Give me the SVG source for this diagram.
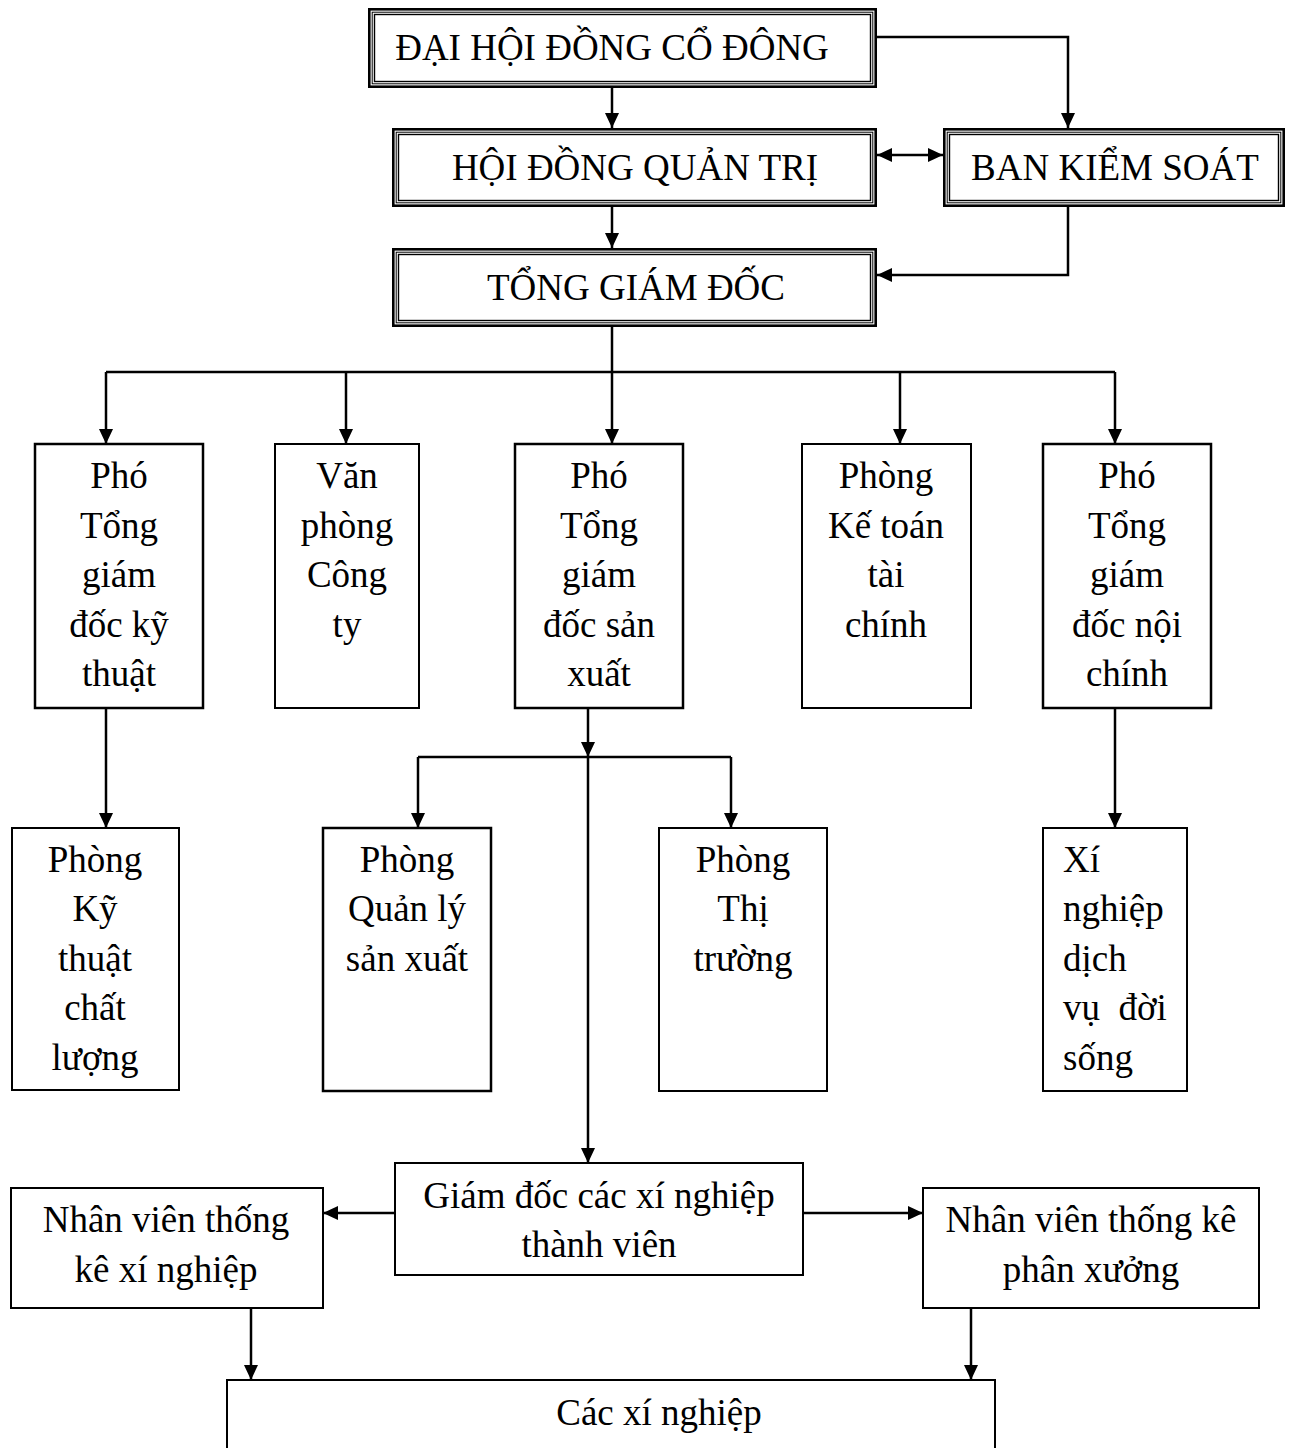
<svg xmlns="http://www.w3.org/2000/svg" width="1293" height="1448" viewBox="0 0 1293 1448">
  <style>
    text { font-family: "Liberation Serif", "Times New Roman", serif; font-size: 37px; fill: #000; text-anchor: middle; }
    text.left { text-anchor: start; white-space: pre; }
    .box { fill: #fff; stroke: #000; stroke-width: 2.5; }
    .thin { fill: #fff; stroke: #000; stroke-width: 2; }
    .t1 { fill: none; stroke: #000; stroke-width: 2.6; }
    .t2 { fill: none; stroke: #000; stroke-width: 1; }
    .t3 { fill: none; stroke: #000; stroke-width: 1.4; }
    .wire { fill: none; stroke: #000; stroke-width: 2.5; }
    .arrow { fill: none; stroke: #000; stroke-width: 2.5; marker-end: url(#head); }
  </style>
  <defs>
    <marker id="head" markerUnits="userSpaceOnUse" markerWidth="15" markerHeight="14" refX="15" refY="7" orient="auto-start-reverse">
      <path d="M0,0 L15,7 L0,14 z" fill="#000"/>
    </marker>
  </defs>
  <rect width="1293" height="1448" fill="#fff"/>

  <!-- connectors -->
  <g id="connectors">
    <path class="arrow" d="M612,88 V128"/>
    <path class="arrow" d="M877,37 H1068 V128"/>
    <path class="arrow" d="M877,155 H943" marker-start="url(#head)"/>
    <path class="arrow" d="M1068,207 V275 H877"/>
    <path class="arrow" d="M612,207 V248"/>
    <path class="arrow" d="M612,327 V444"/>
    <path class="wire" d="M106,372 H1115"/>
    <path class="arrow" d="M106,372 V444"/>
    <path class="arrow" d="M346,372 V444"/>
    <path class="arrow" d="M900,372 V444"/>
    <path class="arrow" d="M1115,372 V444"/>
    <path class="arrow" d="M106,708 V828"/>
    <path class="arrow" d="M588,708 V757"/>
    <path class="arrow" d="M588,757 V1163"/>
    <path class="wire" d="M418,757 H731"/>
    <path class="arrow" d="M418,757 V828"/>
    <path class="arrow" d="M731,757 V828"/>
    <path class="arrow" d="M1115,708 V828"/>
    <path class="arrow" d="M395,1213 H323"/>
    <path class="arrow" d="M803,1213 H923"/>
    <path class="arrow" d="M251,1308 V1380"/>
    <path class="arrow" d="M971,1308 V1380"/>
  </g>

  <!-- board level: triple-line frames -->
  <g id="dai-hoi-dong-co-dong">
    <rect x="368" y="8" width="509" height="80" fill="#fff"/>
    <rect class="t1" x="369.3" y="9.3" width="506.4" height="77.4"/>
    <rect class="t2" x="372.2" y="12.2" width="500.6" height="71.6"/>
    <rect class="t3" x="374.5" y="14.5" width="496" height="67"/>
    <text x="612" y="60">ĐẠI HỘI ĐỒNG CỔ ĐÔNG</text>
  </g>
  <g id="hoi-dong-quan-tri">
    <rect x="392" y="128" width="485" height="79" fill="#fff"/>
    <rect class="t1" x="393.3" y="129.3" width="482.4" height="76.4"/>
    <rect class="t2" x="396.2" y="132.2" width="476.6" height="70.6"/>
    <rect class="t3" x="398.5" y="134.5" width="472" height="66"/>
    <text x="635" y="180">HỘI ĐỒNG QUẢN TRỊ</text>
  </g>
  <g id="ban-kiem-soat">
    <rect x="943" y="128" width="342" height="79" fill="#fff"/>
    <rect class="t1" x="944.3" y="129.3" width="339.4" height="76.4"/>
    <rect class="t2" x="947.2" y="132.2" width="333.6" height="70.6"/>
    <rect class="t3" x="949.5" y="134.5" width="329" height="66"/>
    <text x="1115" y="180">BAN KIỂM SOÁT</text>
  </g>
  <g id="tong-giam-doc">
    <rect x="392" y="248" width="485" height="79" fill="#fff"/>
    <rect class="t1" x="393.3" y="249.3" width="482.4" height="76.4"/>
    <rect class="t2" x="396.2" y="252.2" width="476.6" height="70.6"/>
    <rect class="t3" x="398.5" y="254.5" width="472" height="66"/>
    <text x="636" y="300">TỔNG GIÁM ĐỐC</text>
  </g>

  <!-- deputies and departments -->
  <g id="pho-tgd-ky-thuat">
    <rect class="box" x="35" y="444" width="168" height="264"/>
    <text x="119" y="488">Phó</text>
    <text x="119" y="538">Tổng</text>
    <text x="119" y="587">giám</text>
    <text x="119" y="637">đốc kỹ</text>
    <text x="119" y="686">thuật</text>
  </g>
  <g id="van-phong-cong-ty">
    <rect class="thin" x="275" y="444" width="144" height="264"/>
    <text x="347" y="488">Văn</text>
    <text x="347" y="538">phòng</text>
    <text x="347" y="587">Công</text>
    <text x="347" y="637">ty</text>
  </g>
  <g id="pho-tgd-san-xuat">
    <rect class="box" x="515" y="444" width="168" height="264"/>
    <text x="599" y="488">Phó</text>
    <text x="599" y="538">Tổng</text>
    <text x="599" y="587">giám</text>
    <text x="599" y="637">đốc sản</text>
    <text x="599" y="686">xuất</text>
  </g>
  <g id="phong-ke-toan">
    <rect class="thin" x="802" y="444" width="169" height="264"/>
    <text x="886" y="488">Phòng</text>
    <text x="886" y="538">Kế toán</text>
    <text x="886" y="587">tài</text>
    <text x="886" y="637">chính</text>
  </g>
  <g id="pho-tgd-noi-chinh">
    <rect class="box" x="1043" y="444" width="168" height="264"/>
    <text x="1127" y="488">Phó</text>
    <text x="1127" y="538">Tổng</text>
    <text x="1127" y="587">giám</text>
    <text x="1127" y="637">đốc nội</text>
    <text x="1127" y="686">chính</text>
  </g>

  <g id="phong-ky-thuat-chat-luong">
    <rect class="thin" x="12" y="828" width="167" height="262"/>
    <text x="95" y="872">Phòng</text>
    <text x="95" y="921">Kỹ</text>
    <text x="95" y="971">thuật</text>
    <text x="95" y="1020">chất</text>
    <text x="95" y="1070">lượng</text>
  </g>
  <g id="phong-quan-ly-san-xuat">
    <rect class="box" x="323" y="828" width="168" height="263"/>
    <text x="407" y="872">Phòng</text>
    <text x="407" y="921">Quản lý</text>
    <text x="407" y="971">sản xuất</text>
  </g>
  <g id="phong-thi-truong">
    <rect class="thin" x="659" y="828" width="168" height="263"/>
    <text x="743" y="872">Phòng</text>
    <text x="743" y="921">Thị</text>
    <text x="743" y="971">trường</text>
  </g>
  <g id="xi-nghiep-dich-vu">
    <rect class="thin" x="1043" y="828" width="144" height="263"/>
    <text class="left" x="1063" y="872">Xí</text>
    <text class="left" x="1063" y="921">nghiệp</text>
    <text class="left" x="1063" y="971">dịch</text>
    <text class="left" x="1063" y="1020">vụ  đời</text>
    <text class="left" x="1063" y="1070">sống</text>
  </g>

  <!-- member enterprises -->
  <g id="giam-doc-xi-nghiep">
    <rect class="thin" x="395" y="1163" width="408" height="112"/>
    <text x="599" y="1208">Giám đốc các xí nghiệp</text>
    <text x="599" y="1257">thành viên</text>
  </g>
  <g id="nhan-vien-thong-ke-xi-nghiep">
    <rect class="thin" x="11" y="1188" width="312" height="120"/>
    <text x="166" y="1232">Nhân viên thống</text>
    <text x="166" y="1282">kê xí nghiệp</text>
  </g>
  <g id="nhan-vien-thong-ke-phan-xuong">
    <rect class="thin" x="923" y="1188" width="336" height="120"/>
    <text x="1091" y="1232">Nhân viên thống kê</text>
    <text x="1091" y="1282">phân xưởng</text>
  </g>
  <g id="cac-xi-nghiep">
    <rect class="thin" x="227" y="1380" width="768" height="100"/>
    <text x="659" y="1425">Các xí nghiệp</text>
  </g>
</svg>
